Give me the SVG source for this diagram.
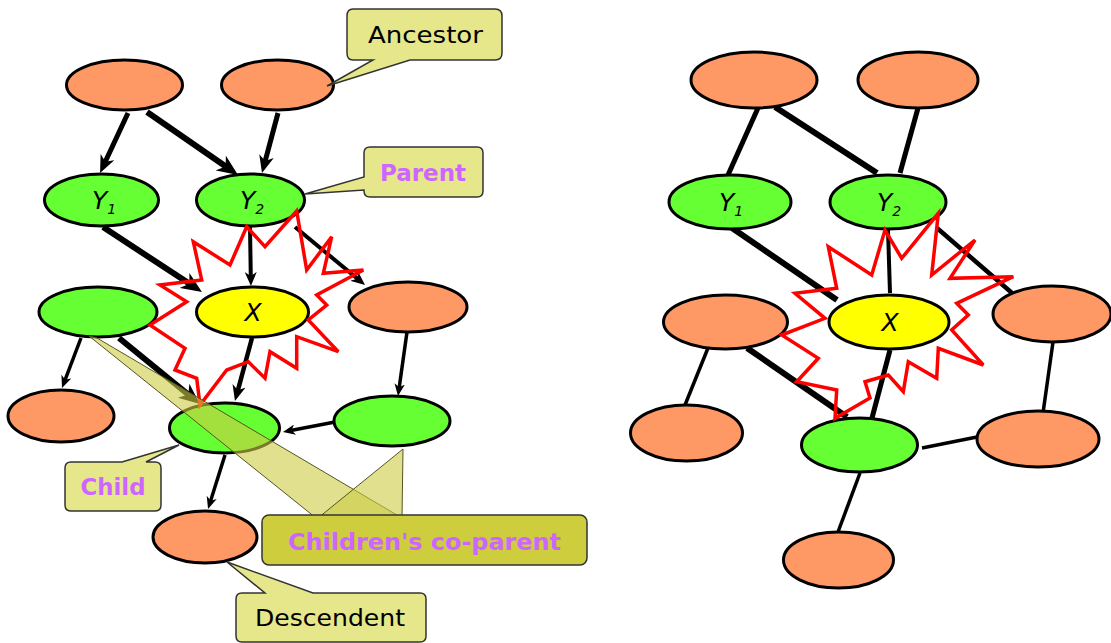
<svg xmlns="http://www.w3.org/2000/svg" width="1111" height="643" viewBox="0 0 1111 643">
<defs>
<marker id="ah" markerUnits="strokeWidth" viewBox="0 0 14 12" markerWidth="3.5" markerHeight="3" refX="5" refY="6" orient="auto">
<path d="M0,0 L14,6 L0,12 L4,6 z" fill="#000"/>
</marker>
<style>
.or{fill:#FE9966;stroke:#000;stroke-width:3}
.gr{fill:#66FF33;stroke:#000;stroke-width:3}
.ye{fill:#FFFF00;stroke:#000;stroke-width:3}
.ln{stroke:#000;fill:none;stroke-linecap:butt}
.ar{stroke:#000;fill:none;marker-end:url(#ah)}
.star{fill:none;stroke:#FF0000;stroke-width:3.5;stroke-linejoin:miter}
.cb{fill:#E6E68A;stroke:#333;stroke-width:1.5}
.cbd{fill:#CDCD3E;stroke:#333;stroke-width:1.5}
.wedge{fill:#CCCC44;fill-opacity:0.6;stroke:#555522;stroke-width:1}
.lbl{font-family:'Comic Sans MS','DejaVu Sans',sans-serif;font-style:italic;font-size:25px;fill:#000}
.sub{font-size:14px}
.ct{font-family:'Comic Sans MS','DejaVu Sans',sans-serif;font-size:23px}
.blk{fill:#000}
.pur{fill:#CC66FF;font-weight:bold}
</style>
</defs>

<g id="connectors-left">
<line class="ar" stroke-width="5" x1="128" y1="113" x2="104.8" y2="162.8"/>
<line class="ar" stroke-width="6" x1="147" y1="112" x2="226.9" y2="167.3"/>
<line class="ar" stroke-width="5" x1="278" y1="113" x2="264.9" y2="162.1"/>
<line class="ar" stroke-width="6" x1="103" y1="227" x2="190.7" y2="284.6"/>
<line class="ar" stroke-width="4" x1="250" y1="227" x2="250.8" y2="277"/>
<line class="ar" stroke-width="4" x1="295" y1="227" x2="358.1" y2="279.3"/>
<line class="ar" stroke-width="3.5" x1="81" y1="338" x2="64.8" y2="380.6"/>
<line class="ar" stroke-width="6" x1="119" y1="338" x2="189.5" y2="395.5"/>
<line class="ar" stroke-width="4.5" x1="252" y1="338" x2="237.6" y2="391.3"/>
<line class="ar" stroke-width="3.5" x1="407" y1="332" x2="399.1" y2="388.2"/>
<line class="ar" stroke-width="3.5" x1="335" y1="422" x2="290.7" y2="430.5"/>
<line class="ar" stroke-width="3.5" x1="225" y1="455" x2="210.4" y2="501.5"/>
</g>

<g id="connectors-right">
<line class="ln" stroke-width="5" x1="758" y1="108" x2="728" y2="175"/>
<line class="ln" stroke-width="6" x1="775" y1="107" x2="877" y2="173"/>
<line class="ln" stroke-width="5" x1="918" y1="108" x2="900" y2="173"/>
<line class="ln" stroke-width="6" x1="732" y1="228" x2="837" y2="300"/>
<line class="ln" stroke-width="4" x1="888" y1="230" x2="890" y2="293"/>
<line class="ln" stroke-width="4.5" x1="937" y1="228" x2="1012" y2="293"/>
<line class="ln" stroke-width="3.5" x1="708" y1="348" x2="685" y2="405"/>
<line class="ln" stroke-width="6" x1="747" y1="348" x2="847" y2="417"/>
<line class="ln" stroke-width="5" x1="890" y1="350" x2="872" y2="418"/>
<line class="ln" stroke-width="3.5" x1="1053" y1="342" x2="1043" y2="413"/>
<line class="ln" stroke-width="3.5" x1="922" y1="448" x2="977" y2="437"/>
<line class="ln" stroke-width="3.5" x1="860" y1="473" x2="838" y2="532"/>
</g>

<!-- left nodes -->
<g id="L-A1"><ellipse class="or" cx="124.5" cy="85" rx="58" ry="25"/></g>
<g id="L-A2"><ellipse class="or" cx="277.5" cy="85" rx="56" ry="25"/></g>
<g id="L-Y1"><ellipse class="gr" cx="101.5" cy="200" rx="57" ry="26"/>
<text class="lbl" x="92" y="209">Y<tspan class="sub" dy="5">1</tspan></text></g>
<g id="L-Y2"><ellipse class="gr" cx="250.5" cy="200" rx="54" ry="26"/>
<text class="lbl" x="240" y="209">Y<tspan class="sub" dy="5">2</tspan></text></g>
<g id="L-X"><ellipse class="ye" cx="252.5" cy="312" rx="56" ry="25"/>
<text class="lbl" x="253" y="321" text-anchor="middle">X</text></g>
<g id="L-C1"><ellipse class="gr" cx="98" cy="312" rx="59" ry="25"/></g>
<g id="L-R1"><ellipse class="or" cx="408" cy="307" rx="59" ry="25"/></g>
<g id="L-BL"><ellipse class="or" cx="61" cy="416" rx="53" ry="26"/></g>
<g id="L-CH"><ellipse class="gr" cx="224.5" cy="428" rx="55" ry="25"/></g>
<g id="L-CP"><ellipse class="gr" cx="392" cy="421" rx="58" ry="25"/></g>
<g id="L-D"><ellipse class="or" cx="205" cy="537" rx="52" ry="26"/></g>

<!-- right nodes -->
<g id="R-A1"><ellipse class="or" cx="754" cy="80" rx="63" ry="28"/></g>
<g id="R-A2"><ellipse class="or" cx="918" cy="80" rx="60" ry="28"/></g>
<g id="R-Y1"><ellipse class="gr" cx="730" cy="202" rx="61" ry="27"/>
<text class="lbl" x="719" y="211">Y<tspan class="sub" dy="5">1</tspan></text></g>
<g id="R-Y2"><ellipse class="gr" cx="888" cy="202" rx="58" ry="27"/>
<text class="lbl" x="877" y="211">Y<tspan class="sub" dy="5">2</tspan></text></g>
<g id="R-X"><ellipse class="ye" cx="889" cy="322" rx="60" ry="27"/>
<text class="lbl" x="890" y="331" text-anchor="middle">X</text></g>
<g id="R-C1"><ellipse class="or" cx="725.5" cy="322" rx="62" ry="27"/></g>
<g id="R-R1"><ellipse class="or" cx="1052" cy="314" rx="59" ry="28"/></g>
<g id="R-BL"><ellipse class="or" cx="686.5" cy="433" rx="56" ry="28"/></g>
<g id="R-CH"><ellipse class="gr" cx="859.5" cy="445" rx="58" ry="27"/></g>
<g id="R-CP"><ellipse class="or" cx="1038" cy="439" rx="61" ry="28"/></g>
<g id="R-D"><ellipse class="or" cx="838.5" cy="560" rx="55" ry="28"/></g>

<!-- stars -->
<g id="L-star"><polygon class="star" points="296.7,211 306.7,270 331.7,236.7 323.3,273.3 363.3,270 316.7,295 326.7,305 308.3,320 338.3,351.7 296.7,336.7 296.7,368.3 270,351.7 265,378.3 248.3,361.7 226.7,370 200,405 196.7,378.3 175,370 185,348.3 150,325 186.7,301.7 160,285 201.7,280 193.3,241.7 230,265 246.7,226.7 265,246.7"/></g>
<g id="R-star"><polygon class="star" points="938.3,213.3 931.7,275 975,240 950,278.3 1013.3,276.7 956.7,303.3 968.3,315 951.7,330 983.3,365 938.3,348.3 936.7,378.3 908.3,361.7 903.3,391.7 888.3,375 865,381.7 870,398 835,418.3 836.7,390 796.7,381.7 818.3,358.3 781.7,335 825,318.3 795,293.3 836.7,288.3 828.3,246.7 871.7,275 885,230 901.7,258.3"/></g>

<!-- callouts -->
<g id="callout-ancestor">
<path class="cb" d="M353,9 H495 Q502,9 502,16 V53 Q502,60 495,60 H410 L327,86 L373,60 H353 Q347,60 347,53 V16 Q347,9 353,9 Z"/>
<text class="ct blk" x="425.5" y="43" text-anchor="middle" textLength="115" lengthAdjust="spacingAndGlyphs">Ancestor</text>
</g>
<g id="callout-parent">
<path class="cb" d="M370,147 H477 Q483,147 483,153 V191 Q483,197 477,197 H370 Q364,197 364,191 V190 L305,194 L364,177 V153 Q364,147 370,147 Z"/>
<text class="ct pur" x="423" y="181" text-anchor="middle" textLength="86" lengthAdjust="spacingAndGlyphs">Parent</text>
</g>
<g id="callout-child">
<path class="cb" d="M71,462 H122 L179,445 L146,462 H155 Q161,462 161,468 V505 Q161,511 155,511 H71 Q65,511 65,505 V468 Q65,462 71,462 Z"/>
<text class="ct pur" x="113" y="495" text-anchor="middle" textLength="65" lengthAdjust="spacingAndGlyphs">Child</text>
</g>
<g id="callout-descendent">
<path class="cb" d="M242,593 H265 L227,562 L313,593 H420 Q426,593 426,599 V636 Q426,642 420,642 H242 Q236,642 236,636 V599 Q236,593 242,593 Z"/>
<text class="ct blk" x="330" y="626" text-anchor="middle" textLength="150" lengthAdjust="spacingAndGlyphs">Descendent</text>
</g>
<g id="callout-coparent">
<polygon class="wedge" points="89,336 97,338 402,518 316,518"/>
<polygon class="wedge" points="403,449 402,518 318,518"/>
<rect class="cbd" x="262" y="515" width="325" height="50" rx="7"/>
<text class="ct pur" x="424.5" y="550" text-anchor="middle" textLength="273" lengthAdjust="spacingAndGlyphs">Children's co-parent</text>
</g>
</svg>
